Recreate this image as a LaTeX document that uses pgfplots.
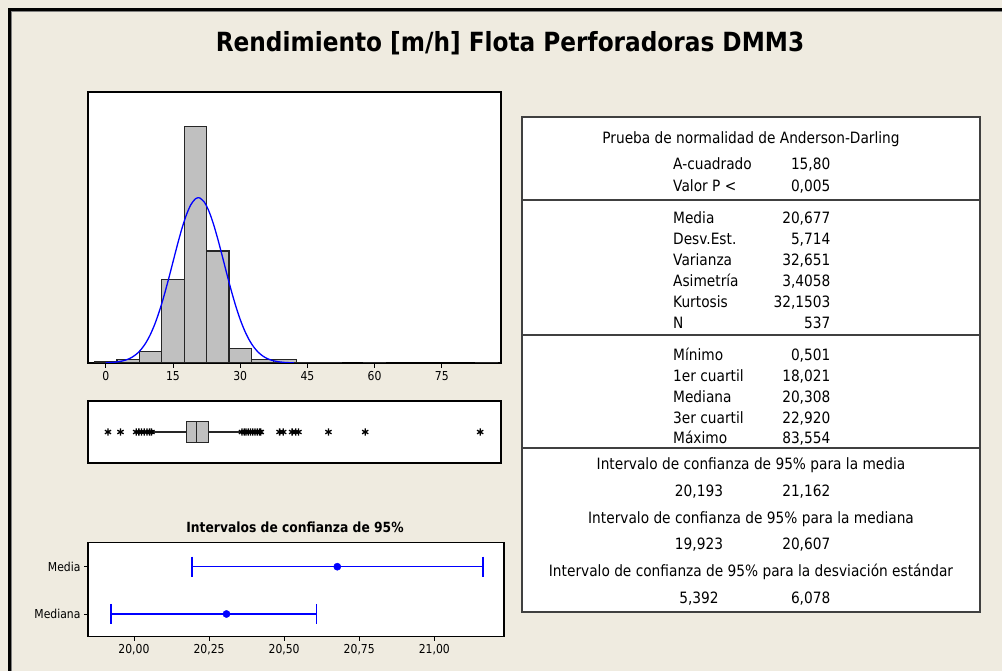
\documentclass[border=0pt]{standalone}
\usepackage{pgfplots}
\pgfplotsset{compat=1.18}
\usepgfplotslibrary{statistics}
\usepackage{fontspec}
\setmainfont[FakeStretch=0.88]{DejaVu Sans}
\definecolor{bg}{RGB}{239,235,224}
\definecolor{bargray}{RGB}{192,192,192}
\definecolor{mblue}{RGB}{0,0,255}
\newcommand\tf{\fontsize{15.6}{18}\selectfont}
\newcommand\sm{\fontsize{12.3}{14}\selectfont}
\begin{document}
\begin{tikzpicture}
\path[use as bounding box] (0pt,0pt) rectangle (1002pt,671pt);
\fill[bg] (-10pt,-10pt) rectangle (1015pt,685pt);
\draw[line width=3pt] (9.5pt,-10pt) -- (9.5pt,661.5pt) -- (1015pt,661.5pt);
\draw[line width=1pt, gray] (11.5pt,-10pt) -- (11.5pt,659.5pt) -- (1015pt,659.5pt);
\node[font=\fontsize{26.4}{30}\selectfont\bfseries] at (510pt,628pt) {Rendimiento [m/h] Flota Perforadoras DMM3};

% Histogram
\begin{axis}[at={(88pt,308pt)}, anchor=south west, scale only axis,
  width=413pt, height=271pt,
  xmin=-3.95, xmax=88.2, ymin=0, ymax=307.4,
  axis background/.style={fill=white},
  xtick={0,15,30,45,60,75}, xticklabels={0,15,30,45,60,75},
  ytick=\empty, tick align=outside, xtick pos=left,
  major tick length=5pt,
  axis line style={line width=1.2pt},
  tick style={black, line width=0.8pt},
  xticklabel style={font=\sm}]
\addplot[ybar, bar width=5, fill=bargray, draw=black!85, line width=1.2pt] coordinates {
(0,2) (5,4) (10,13) (15,95) (20,268) (25,127) (30,16) (35,4) (40,4) (45,1) (50,1) (60,1) (85,1)};
\addplot[mblue, line width=1.3pt, smooth] coordinates {
(0,0.27) (1,0.50) (2,0.90) (3,1.57) (4,2.65) (5,4.35) (6,6.92) (7,10.68) (8,16.00) (9,23.23)
(10,32.71) (11,44.67) (12,59.18) (13,76.02) (14,94.73) (15,114.43) (16,134.10) (17,152.41)
(18,168.00) (19,179.56) (20,186.16) (20.677,187.47) (21,187.17) (22,182.52) (23,172.60)
(24,158.30) (25,140.81) (26,121.48) (27,101.63) (28,82.47) (29,64.90) (30,49.53) (31,36.67)
(32,26.32) (33,18.32) (34,12.37) (35,8.10) (36,5.14) (37,3.17) (38,1.89) (39,1.10) (40,0.62)
(41,0.34) (42,0.18)};
\end{axis}

% Boxplot
\begin{axis}[at={(88pt,208pt)}, anchor=south west, scale only axis,
  width=413pt, height=62pt,
  xmin=-3.95, xmax=88.2, ymin=0, ymax=2,
  xtick=\empty, ytick=\empty,
  axis background/.style={fill=white},
  axis line style={line width=1.2pt}]
\addplot[boxplot prepared={lower whisker=10.5, lower quartile=18.021, median=20.308,
   upper quartile=22.920, upper whisker=30.0, draw position=1, box extend=0.7,
   whisker extend=0, draw direction=x},
   fill=bargray, draw=black!85, line width=1.2pt,
   mark=asterisk, mark size=3.6pt, mark options={black, line width=1.3pt}]
  table[row sep=\\, y index=0] {
  v\\ 0.501\\ 3.3\\ 6.8\\ 7.4\\ 8.0\\ 8.6\\ 9.2\\ 9.8\\ 10.2\\
  30.4\\ 30.9\\ 31.3\\ 31.8\\ 32.3\\ 32.8\\ 33.3\\ 33.8\\ 34.3\\ 34.6\\
  38.8\\ 39.6\\ 41.6\\ 42.4\\ 43.0\\ 49.7\\ 57.9\\ 83.554\\
  };
\end{axis}

% Confidence intervals
\node[font=\fontsize{14}{16}\selectfont\bfseries, anchor=base] at (295pt,138.3pt) {Intervalos de confianza de 95\%};
\begin{axis}[at={(88pt,34.3pt)}, anchor=south west, scale only axis,
  width=416pt, height=94.4pt,
  xmin=19.847, xmax=21.232, ymin=0.52, ymax=2.516,
  xtick={20,20.25,20.5,20.75,21},
  xticklabels={{20,00},{20,25},{20,50},{20,75},{21,00}},
  ytick={1,2}, yticklabels={Mediana,Media},
  tick align=outside, xtick pos=left, ytick pos=left,
  major tick length=4pt,
  axis background/.style={fill=white},
  axis line style={line width=1.2pt},
  tick style={black, line width=0.8pt},
  xticklabel style={font=\sm}, yticklabel style={font=\sm}]
\addplot[mblue, line width=1.3pt] coordinates {(20.193,2) (21.162,2)};
\addplot[mblue, line width=1.3pt] coordinates {(19.923,1) (20.607,1)};
\addplot[mblue, only marks, mark=|, mark size=10pt, mark options={line width=1.5pt}] coordinates {(20.193,2) (21.162,2) (19.923,1) (20.607,1)};
\addplot[mblue, only marks, mark=*, mark size=3.6pt] coordinates {(20.677,2) (20.308,1)};
\end{axis}

% Table
\fill[white] (522pt,59pt) rectangle (980pt,554pt);
\draw[line width=1.6pt, black!75] (522pt,59pt) rectangle (980pt,554pt);
\draw[line width=1.6pt, black!75] (522pt,471pt) -- (980pt,471pt);
\draw[line width=1.6pt, black!75] (522pt,336pt) -- (980pt,336pt);
\draw[line width=1.6pt, black!75] (522pt,222.7pt) -- (980pt,222.7pt);
\begin{scope}[every node/.style={font=\tf, inner sep=0pt}]
\node[anchor=base] at (751pt,527.7pt) {Prueba de normalidad de Anderson-Darling};
\node[anchor=base west] at (673pt,501.7pt) {A-cuadrado};
\node[anchor=base east] at (830.5pt,501.7pt) {15,80};
\node[anchor=base west] at (673pt,479.3pt) {Valor P <};
\node[anchor=base east] at (830.5pt,479.3pt) {0,005};
\node[anchor=base west] at (673pt,447.7pt) {Media};
\node[anchor=base east] at (830.5pt,447.7pt) {20,677};
\node[anchor=base west] at (673pt,426.7pt) {Desv.Est.};
\node[anchor=base east] at (830.5pt,426.7pt) {5,714};
\node[anchor=base west] at (673pt,405.7pt) {Varianza};
\node[anchor=base east] at (830.5pt,405.7pt) {32,651};
\node[anchor=base west] at (673pt,384.7pt) {Asimetría};
\node[anchor=base east] at (830.5pt,384.7pt) {3,4058};
\node[anchor=base west] at (673pt,363.7pt) {Kurtosis};
\node[anchor=base east] at (830.5pt,363.7pt) {32,1503};
\node[anchor=base west] at (673pt,342.7pt) {N};
\node[anchor=base east] at (830.5pt,342.7pt) {537};
\node[anchor=base west] at (673pt,310.3pt) {Mínimo};
\node[anchor=base east] at (830.5pt,310.3pt) {0,501};
\node[anchor=base west] at (673pt,289.3pt) {1er cuartil};
\node[anchor=base east] at (830.5pt,289.3pt) {18,021};
\node[anchor=base west] at (673pt,268.7pt) {Mediana};
\node[anchor=base east] at (830.5pt,268.7pt) {20,308};
\node[anchor=base west] at (673pt,247.7pt) {3er cuartil};
\node[anchor=base east] at (830.5pt,247.7pt) {22,920};
\node[anchor=base west] at (673pt,227.7pt) {Máximo};
\node[anchor=base east] at (830.5pt,227.7pt) {83,554};
\node[anchor=base] at (751pt,201pt) {Intervalo de confianza de 95\% para la media};
\node[anchor=base] at (699pt,174.3pt) {20,193};
\node[anchor=base east] at (830.5pt,174.3pt) {21,162};
\node[anchor=base] at (751pt,147.7pt) {Intervalo de confianza de 95\% para la mediana};
\node[anchor=base] at (699pt,121pt) {19,923};
\node[anchor=base east] at (830.5pt,121pt) {20,607};
\node[anchor=base] at (751pt,94.3pt) {Intervalo de confianza de 95\% para la desviación estándar};
\node[anchor=base] at (699pt,67.7pt) {5,392};
\node[anchor=base east] at (830.5pt,67.7pt) {6,078};
\end{scope}
\end{tikzpicture}
\end{document}
